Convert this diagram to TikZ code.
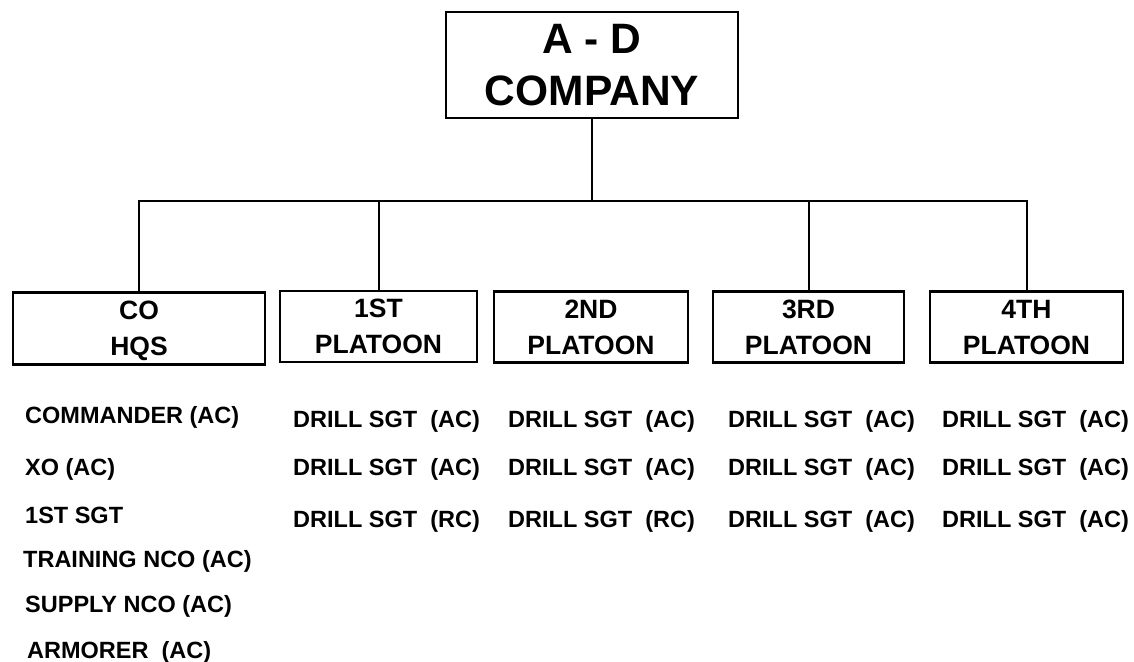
\documentclass[tikz,border=0pt]{standalone}
\usepackage{fontspec}
\setmainfont{Liberation Sans}
\usepackage{tikz}

\begin{document}
\begin{tikzpicture}[x=1pt,y=-1pt,
	unitbox/.style={draw,line width=2.4pt,inner sep=0pt,text depth=0pt,align=center,font=\fontsize{26.5}{36}\selectfont\bfseries},
	staff/.style={anchor=base west,inner sep=0pt,font=\fontsize{23.5}{28}\selectfont\bfseries},
	link/.style={line width=2pt}]
				\useasboundingbox (0,0) rectangle (1134,661);
				\node (top) at (592,65) [draw,line width=2.4pt,minimum width=292pt,minimum height=106pt,inner sep=0pt,align=center,font=\fontsize{42.5}{52}\selectfont\bfseries] {A - D\\COMPANY};
				\node (hq) at (139,328.5) [unitbox,minimum width=252pt,minimum height=72pt] {CO\\HQS};
				\node (p1) at (378.5,326.5) [unitbox,minimum width=197pt,minimum height=71pt] {1ST\\PLATOON};
				\node (p2) at (591,327) [unitbox,minimum width=194pt,minimum height=71pt] {2ND\\PLATOON};
				\node (p3) at (808.5,327) [unitbox,minimum width=191pt,minimum height=71pt] {3RD\\PLATOON};
				\node (p4) at (1026.5,327) [unitbox,minimum width=193pt,minimum height=71pt] {4TH\\PLATOON};
				\coordinate (bar) at (0,201);
				
				\draw[link] (top.south) -- (top.south |- bar);
				\draw[link] (hq.north) -- (hq.north |- bar) -- (p4.north |- bar) -- (p4.north);
				\draw[link] (p1.north) -- (p1.north |- bar);
				\draw[link] (p3.north) -- (p3.north |- bar);
				
				\node (cmdr) at (25,423) [staff] {COMMANDER (AC)};
				\node (xo) at (25,475) [staff] {XO (AC)};
				\node (fsgt) at (25,523) [staff] {1ST SGT};
				\node (tnco) at (23,567) [staff] {TRAINING NCO (AC)};
				\node (snco) at (25,612) [staff] {SUPPLY NCO (AC)};
				\node (arm) at (27,658) [staff] {ARMORER\ \ (AC)};
				
				\node (s11) at (293,427) [staff] {DRILL SGT\ \ (AC)};
				\node (s12) at (293,475) [staff] {DRILL SGT\ \ (AC)};
				\node (s13) at (293,527) [staff] {DRILL SGT\ \ (RC)};
				\node (s21) at (508,427) [staff] {DRILL SGT\ \ (AC)};
				\node (s22) at (508,475) [staff] {DRILL SGT\ \ (AC)};
				\node (s23) at (508,527) [staff] {DRILL SGT\ \ (RC)};
				\node (s31) at (728,427) [staff] {DRILL SGT\ \ (AC)};
				\node (s32) at (728,475) [staff] {DRILL SGT\ \ (AC)};
				\node (s33) at (728,527) [staff] {DRILL SGT\ \ (AC)};
				\node (s41) at (942,427) [staff] {DRILL SGT\ \ (AC)};
				\node (s42) at (942,475) [staff] {DRILL SGT\ \ (AC)};
				\node (s43) at (942,527) [staff] {DRILL SGT\ \ (AC)};
			\end{tikzpicture}
\end{document}
